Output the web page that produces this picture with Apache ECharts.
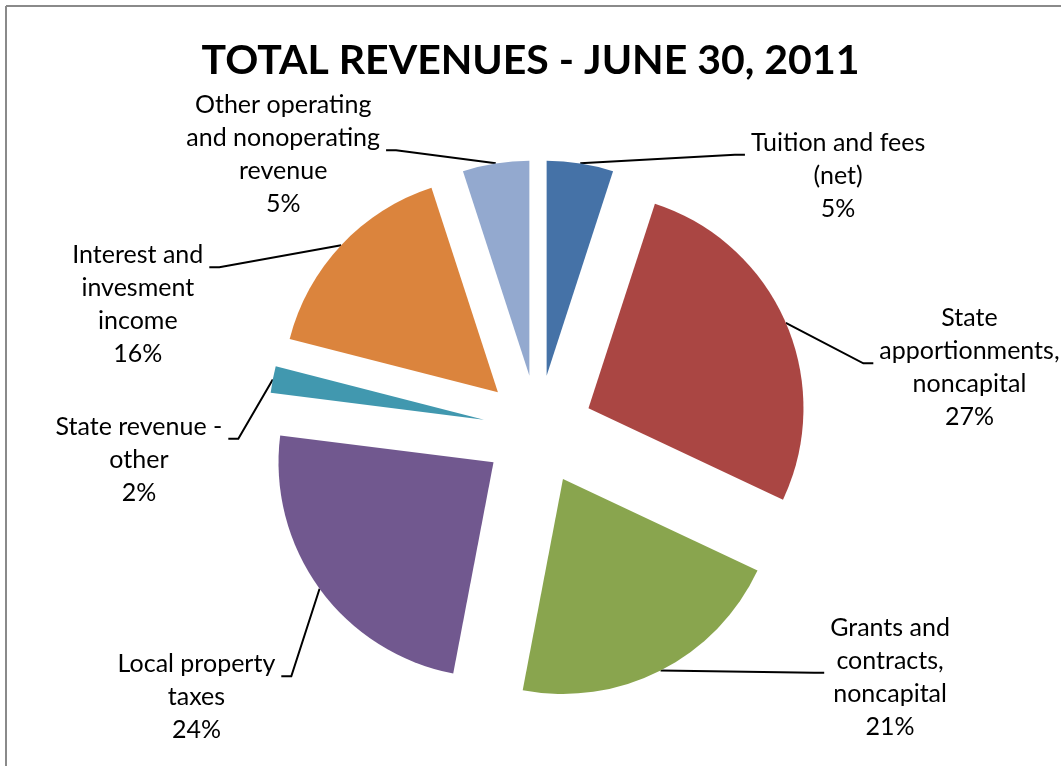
<!DOCTYPE html>
<html>
<head>
<meta charset="utf-8">
<title>Total Revenues - June 30, 2011</title>
<script src="https://cdn.jsdelivr.net/npm/echarts@6/dist/echarts.min.js"></script>
<style>
  html, body { margin: 0; padding: 0; background: #ffffff; }
  #chart { width: 1061px; height: 766px; }
</style>
</head>
<body>
<div id="chart"></div>
<script>
// Revenue categories (label text keeps the line breaks used on the chart)
const categories = [
  'Tuition and fees\n(net)',
  'State\napportionments,\nnoncapital',
  'Grants and\ncontracts,\nnoncapital',
  'Local property\ntaxes',
  'State revenue -\nother',
  'Interest and\ninvesment\nincome',
  'Other operating\nand nonoperating\nrevenue'
];
// Share of total revenues, percent
const shares = [5, 27, 21, 24, 2, 16, 5];
const sliceColors = ['#4572A7', '#AA4643', '#89A54E', '#71588F', '#4198AF', '#DB843D', '#93A9CF'];

// Extra nudge applied to each data label after the default pie layout
const labelNudge = [[141, 42], [41, 57], [131, -20], [5, 91], [4, 86], [-91, 80], [-86, 21]];
// Text row of each label that its leader line attaches to
const leaderRow = [0, 1, 1, 0, 0, 0, 1];

const LABEL_FONT = 'Lato, "Open Sans", sans-serif';
const LINE_H = 33;
const TEXT_GAP = 5;   // space between leader end and text
const STUB = 10;      // short horizontal piece of each leader

const chart = echarts.init(document.getElementById('chart'), null, { renderer: 'canvas' });

const data = categories.map((name, i) => ({
  name: name,
  value: shares[i],
  selected: true,
  itemStyle: { color: sliceColors[i] }
}));

chart.setOption({
  animation: false,
  backgroundColor: '#ffffff',
  title: {
    text: 'TOTAL REVENUES - JUNE 30, 2011',
    left: 'center',
    top: 35,
    textStyle: {
      fontFamily: 'Lato, sans-serif',
      fontWeight: 'bold',
      fontSize: 41,
      color: '#000000'
    }
  },
  graphic: [
    { type: 'line', shape: { x1: 6, y1: 6, x2: 1061, y2: 6 }, style: { stroke: '#8a8a8a', lineWidth: 2 } },
    { type: 'line', shape: { x1: 6, y1: 6, x2: 6, y2: 766 }, style: { stroke: '#8a8a8a', lineWidth: 2 } }
  ],
  series: [{
    type: 'pie',
    center: [538, 430],
    radius: 215,
    startAngle: 90,
    clockwise: true,
    selectedMode: 'multiple',
    selectedOffset: 55,
    avoidLabelOverlap: false,
    data: data,
    itemStyle: { borderWidth: 0 },
    select: { itemStyle: { borderWidth: 0 } },
    emphasis: { disabled: true },
    label: {
      show: true,
      position: 'outside',
      formatter: function (p) {
        const lines = (p.name + '\n' + Math.round(p.percent) + '%').split('\n');
        return lines.map(s => '{t|' + s + '}').join('\n');
      },
      rich: {
        t: {
          align: 'center',
          fontFamily: LABEL_FONT,
          fontSize: 25,
          lineHeight: LINE_H,
          color: '#000000'
        }
      }
    },
    labelLine: {
      show: true,
      length: 30,
      length2: 20,
      lineStyle: { color: '#000000', width: 2 }
    },
    labelLayout: function (params) {
      const i = params.dataIndex;
      const n = labelNudge[i];
      const pts = params.labelLinePoints;
      const r = params.labelRect;
      if (!pts) {
        return { dx: n[0], dy: n[1] };
      }
      const onRight = pts[2][0] >= pts[1][0];
      // offset between the leader's own space and the label's space
      const tx = (onRight ? r.x - TEXT_GAP : r.x + r.width + TEXT_GAP) - pts[2][0];
      const ty = r.y + r.height / 2 - pts[2][1];
      const nx = r.x + n[0];
      const ny = r.y + n[1];
      const ax = onRight ? nx - TEXT_GAP - 1 : nx + r.width + TEXT_GAP + 1;
      const ay = ny + leaderRow[i] * LINE_H + 24.5;
      const bx = onRight ? ax - STUB : ax + STUB;
      return {
        dx: n[0],
        dy: n[1],
        labelLinePoints: [
          [pts[0][0], pts[0][1]],
          [bx - tx, ay - ty],
          [ax - tx, ay - ty]
        ]
      };
    }
  }]
});
</script>
</body>
</html>
